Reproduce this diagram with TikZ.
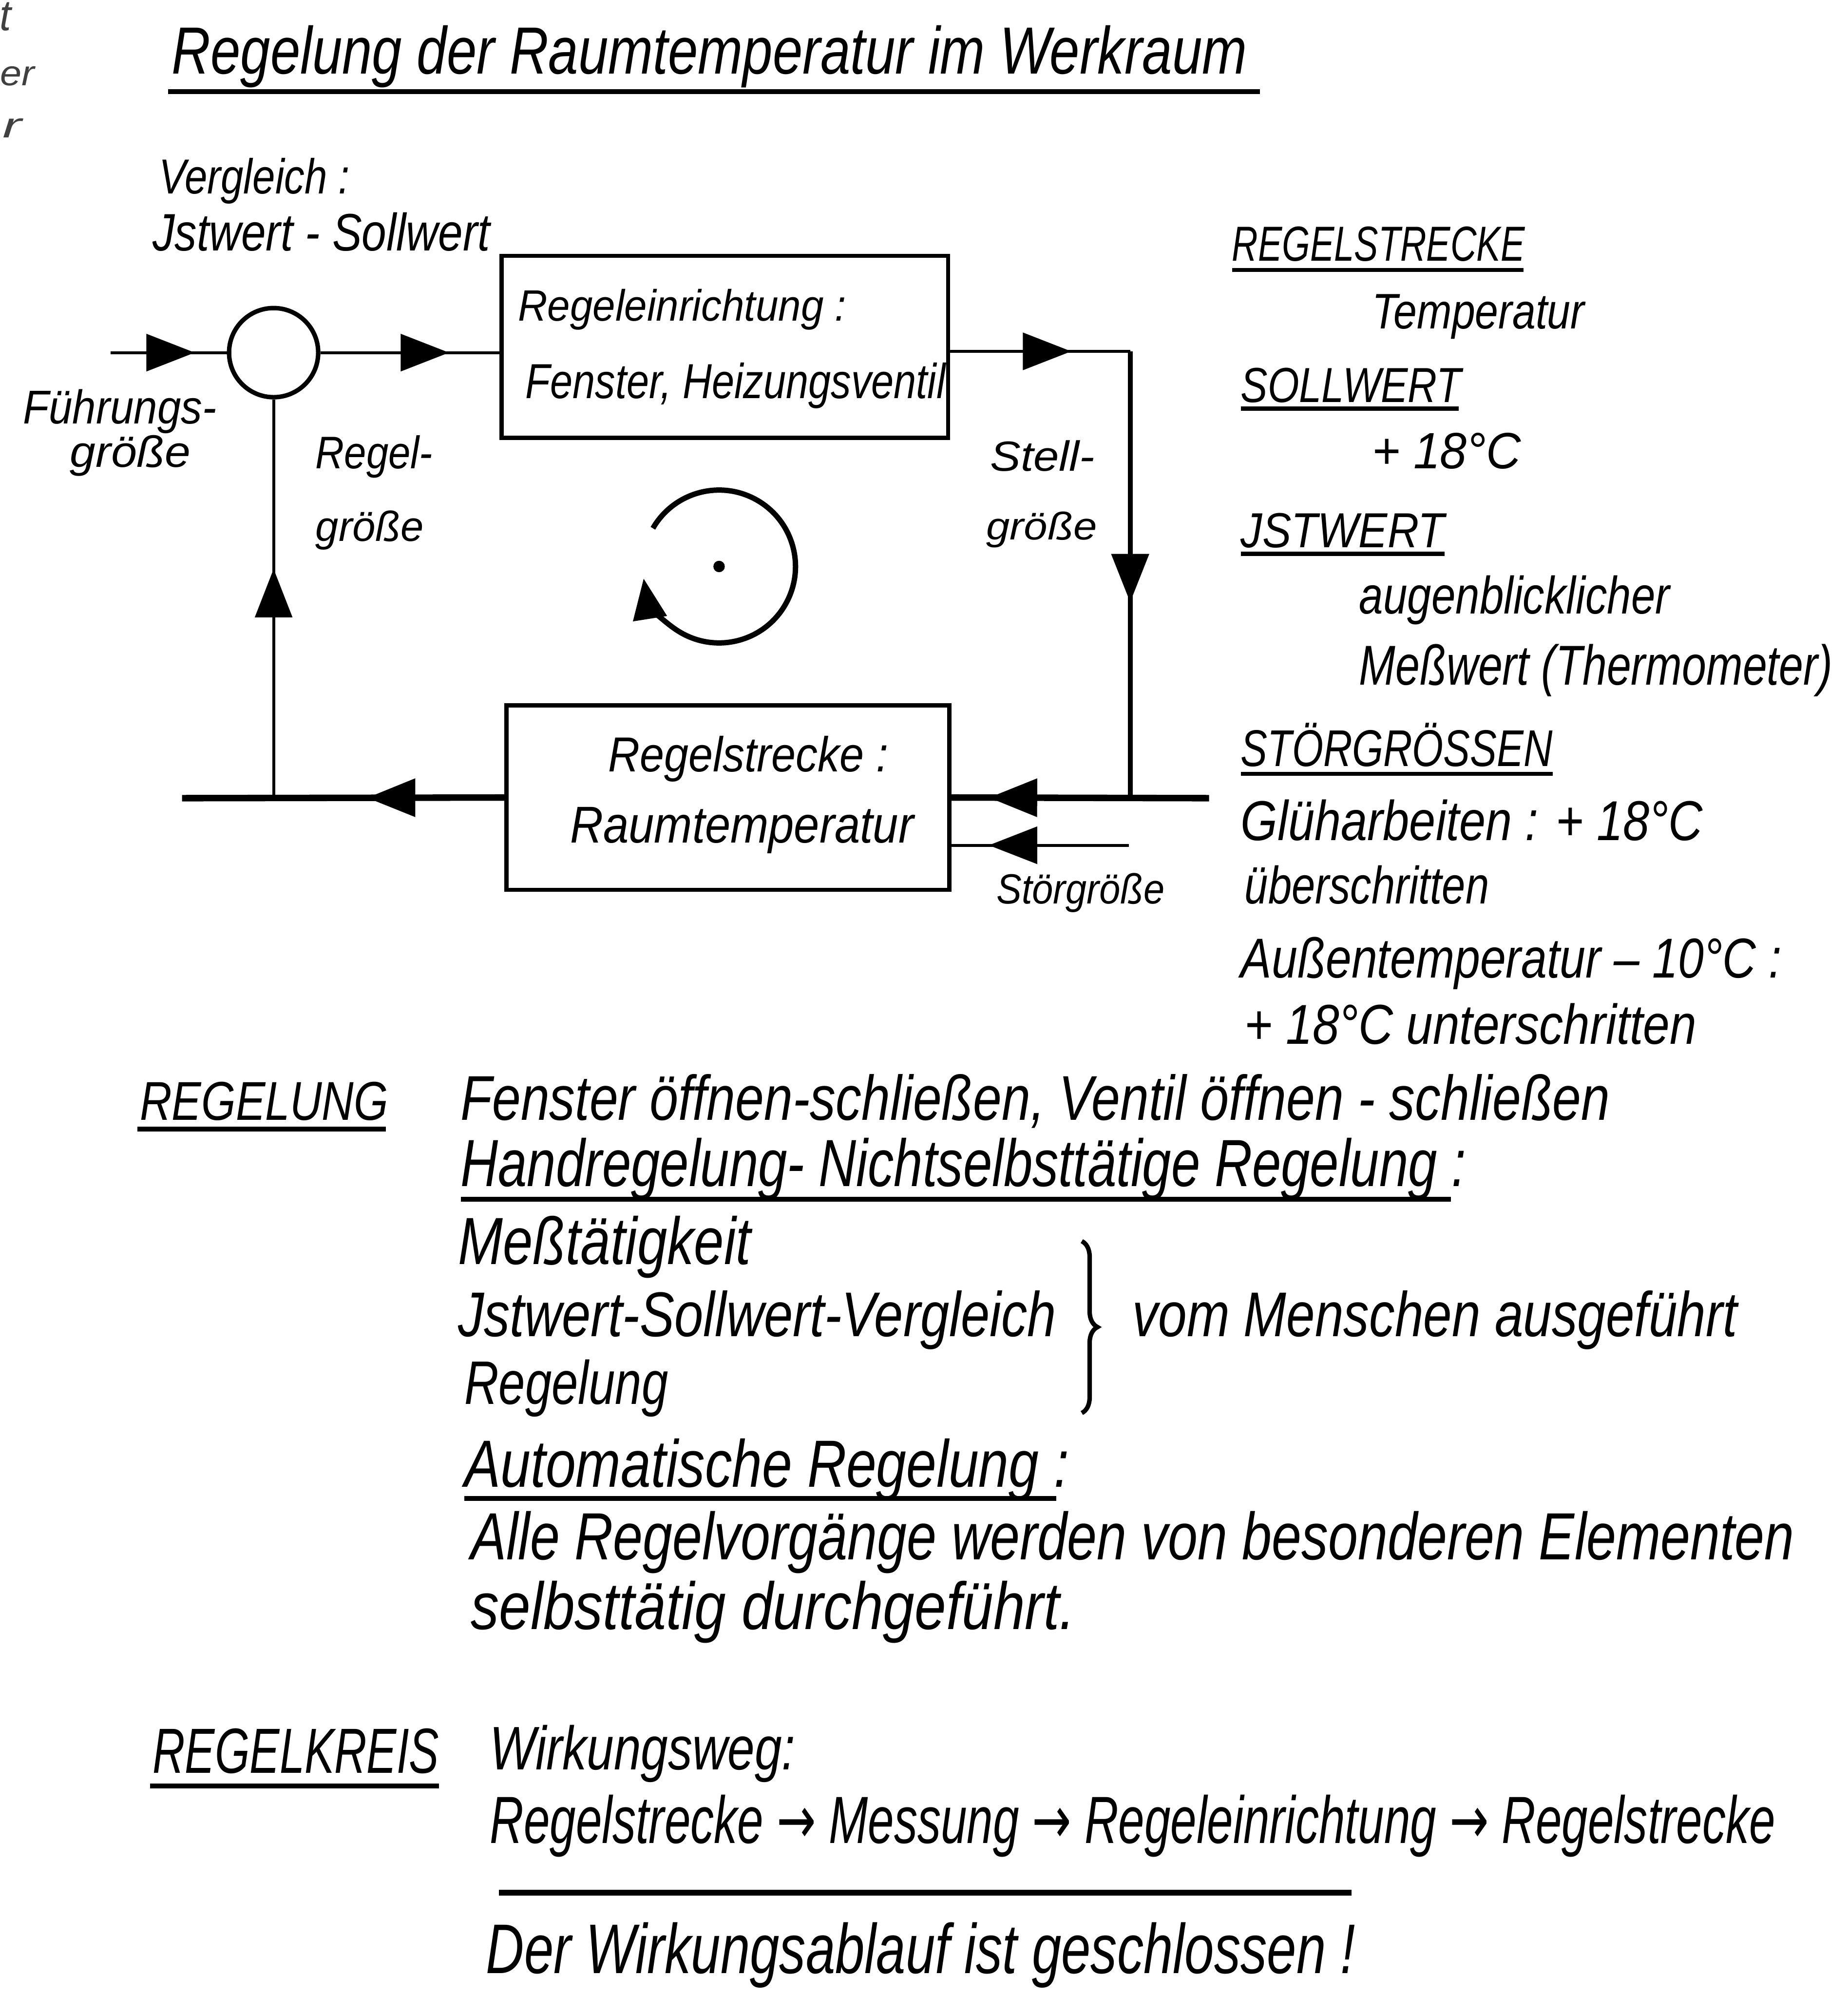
\documentclass[tikz,border=0pt]{standalone}
\usepackage{fontspec}
\usepackage{graphicx}
\setmainfont{Liberation Sans}
\newfontfamily\dvfont{DejaVu Sans}
\usetikzlibrary{arrows.meta,decorations.markings,decorations.pathreplacing,calc}
\newlength\pxu
\setlength\pxu{0.01cm}
\newcommand\hw[3]{\resizebox{#1\pxu}{#2\pxu}{\itshape #3}}
\newcommand\ar{{\upshape\dvfont →}}
\tikzset{
  txt/.style={anchor=base west, inner sep=0pt, outer sep=0pt},
  txte/.style={anchor=base east, inner sep=0pt, outer sep=0pt, text=black!75},
  thinln/.style={line width=0.65pt},
  medln/.style={line width=1.05pt},
  thickln/.style={line width=1.45pt},
  uline/.style={line width=0.9pt},
  blockbox/.style={draw, line width=0.95pt, inner sep=0pt},
  arrowat/.style={postaction={decorate}, decoration={markings,
      mark=at position #1 with {\arrow{Triangle[length=3.8mm,width=2.9mm]}}}},
}
\begin{document}
\begin{tikzpicture}[x=0.01cm, y=-0.01cm]
\useasboundingbox (0,0) rectangle (1452,1568);

% cut-off fragments at the left edge
\node[txte] (fa) at (9,24) {\hw{9}{22}{t}};
\node[txte] (fb) at (27,67) {\hw{27}{15}{er}};
\node[txte] (fc) at (17,108) {\hw{15}{15}{r}};

% title
\node[txt] (title) at (135,58) {\hw{845}{38}{Regelung der Raumtemperatur im Werkraum}};
\draw[line width=1.1pt] (132,72) -- (990,72);

% ---------- block diagram ----------
\node[draw, circle, line width=1pt, minimum size=0.70cm, inner sep=0pt] (cmp) at (215,277) {};
\node[blockbox, minimum width=351\pxu, minimum height=143\pxu] (ctrl) at (569.5,272.5) {};
\node[blockbox, minimum width=348\pxu, minimum height=145\pxu] (plant) at (572,626.5) {};

\coordinate (inp) at (87,277);
\coordinate (c1) at (888,276);
\coordinate (c2) at (888,627);
\coordinate (rin) at (950,627);
\coordinate (sin) at (887,664);
\coordinate (lout) at (143,627);
\coordinate (jn) at (215,627);

\draw[thinln, arrowat=0.66cm] (inp) -- (cmp.west);
\draw[thinln, arrowat=1.01cm] (cmp.east) -- (cmp.east -| ctrl.west);
\draw[thinln, arrowat=0.95cm] (ctrl.east |- c1) -- (c1);
\draw[medln, arrowat=1.97cm] (c1) -- (c2);
\draw[thickln, arrowat=1.73cm] (rin) -- (plant.east);
\draw[thinln, arrowat=1.10cm] (sin) -- (sin -| plant.east);
\draw[thickln, arrowat=1.08cm] (plant.west) -- (lout);
\draw[thinln, arrowat=1.80cm] (jn) -- (cmp.south);

% circular arrow symbol
\coordinate (cen) at (565,445);
\fill (cen) circle[radius=0.045cm];
\draw[line width=1.2pt, -{Triangle[length=3.2mm,width=2.6mm]}]
  ([shift={(150:0.6cm)}]cen) arc[start angle=150, end angle=-171, radius=0.6cm];

% diagram labels
\node[txt] (vgl) at (125,152) {\hw{150}{28}{Vergleich :}};
\node[txt] (istsoll) at (120,197) {\hw{265}{30}{Jstwert - Sollwert}};
\node[txt] (ctrla) at (407,252) {\hw{258}{25}{Regeleinrichtung :}};
\node[txt] (ctrlb) at (413,313) {\hw{330}{28}{Fenster, Heizungsventil}};
\node[txt] (fga) at (18,333) {\hw{152}{27}{Führungs-}};
\node[txt] (fgb) at (55,367) {\hw{95}{25}{größe}};
\node[txt] (rga) at (248,368) {\hw{92}{26}{Regel-}};
\node[txt] (rgb) at (248,425) {\hw{85}{24}{größe}};
\node[txt] (sga) at (778,370) {\hw{82}{24}{Stell-}};
\node[txt] (sgb) at (775,424) {\hw{87}{22}{größe}};
\node[txt] (pla) at (478,606) {\hw{220}{28}{Regelstrecke :}};
\node[txt] (plb) at (448,662) {\hw{270}{28}{Raumtemperatur}};
\node[txt] (stg) at (783,710) {\hw{132}{24}{Störgröße}};

% ---------- right column ----------
\node[txt] (r1) at (968,205) {\hw{230}{27}{REGELSTRECKE}};
\draw[uline] (968,212) -- (1197,212);
\node[txt] (r2) at (1078,258) {\hw{167}{27}{Temperatur}};
\node[txt] (r3) at (975,316) {\hw{173}{27}{SOLLWERT}};
\draw[uline] (975,321) -- (1146,321);
\node[txt] (r4) at (1078,368) {\hw{117}{28}{+ 18°C}};
\node[txt] (r5) at (975,430) {\hw{160}{27}{JSTWERT}};
\draw[uline] (975,435) -- (1135,435);
\node[txt] (r6) at (1068,482) {\hw{244}{30}{augenblicklicher}};
\node[txt] (r7) at (1068,538) {\hw{372}{32}{Meßwert (Thermometer)}};
\node[txt] (r8) at (975,602) {\hw{245}{34}{STÖRGRÖSSEN}};
\draw[uline] (975,608) -- (1220,608);
\node[txt] (r9) at (975,660) {\hw{363}{32}{Glüharbeiten : + 18°C}};
\node[txt] (r10) at (978,710) {\hw{192}{30}{überschritten}};
\node[txt] (r11) at (975,768) {\hw{425}{32}{Außentemperatur – 10°C :}};
\node[txt] (r12) at (978,820) {\hw{355}{32}{+ 18°C unterschritten}};

% ---------- lower section ----------
\node[txt] (l1) at (110,880) {\hw{195}{30}{REGELUNG}};
\draw[line width=1.1pt] (108,887) -- (303,887);
\node[txt] (l2) at (362,880) {\hw{903}{36}{Fenster öffnen-schließen, Ventil öffnen - schließen}};
\node[txt] (l3) at (362,932) {\hw{790}{38}{Handregelung- Nichtselbsttätige Regelung :}};
\draw[line width=1.1pt] (362,942) -- (1140,942);
\node[txt] (l4) at (360,993) {\hw{230}{38}{Meßtätigkeit}};
\node[txt] (l5) at (360,1050) {\hw{470}{36}{Jstwert-Sollwert-Vergleich}};
\node[txt] (l6) at (365,1103) {\hw{160}{35}{Regelung}};
\draw[line width=1pt, decorate, decoration={brace, amplitude=3.5pt}] (850,975) -- (850,1110);
\node[txt] (l7) at (890,1050) {\hw{475}{36}{vom Menschen ausgeführt}};
\node[txt] (l8) at (365,1168) {\hw{475}{38}{Automatische Regelung :}};
\draw[line width=1.1pt] (365,1177) -- (830,1177);
\node[txt] (l9) at (370,1225) {\hw{1040}{38}{Alle Regelvorgänge werden von besonderen Elementen}};
\node[txt] (l10) at (370,1280) {\hw{475}{38}{selbsttätig durchgeführt.}};

\node[txt] (k1) at (120,1393) {\hw{225}{35}{REGELKREIS}};
\draw[line width=1.1pt] (118,1403) -- (345,1403);
\node[txt] (k2) at (385,1390) {\hw{240}{35}{Wirkungsweg:}};
\node[txt] (k3) at (385,1448) {\hw{1010}{38}{Regelstrecke \ar{} Messung \ar{} Regeleinrichtung \ar{} Regelstrecke}};
\draw[line width=1.3pt] (392,1487) -- (1062,1487);
\node[txt] (k4) at (382,1550) {\hw{683}{40}{Der Wirkungsablauf ist geschlossen !}};
\end{tikzpicture}
\end{document}
